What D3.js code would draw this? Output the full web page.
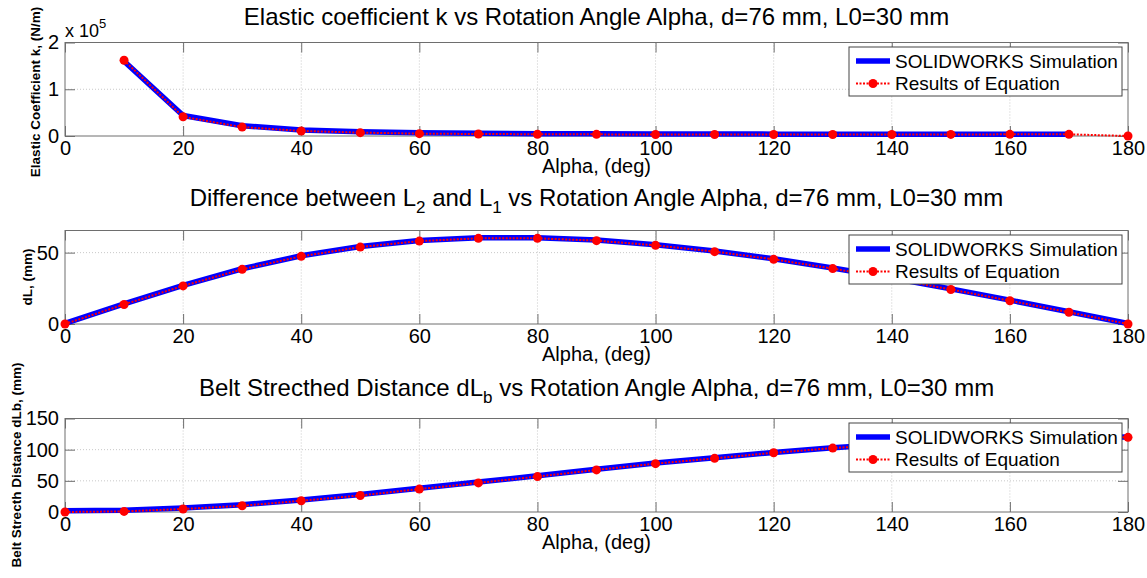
<!DOCTYPE html>
<html>
<head>
<meta charset="utf-8">
<script src="https://cdnjs.cloudflare.com/ajax/libs/d3/7.8.5/d3.min.js"></script>
<style>
  body { margin: 0; background: #fff; }
  svg text { font-family: "Liberation Sans", Arial, Helvetica, sans-serif; fill: #000; }
</style>
</head>
<body>
<div id="chart"></div>
<script>
// ---- data ----
var alpha = [0, 10, 20, 30, 40, 50, 60, 70, 80, 90, 100, 110, 120, 130, 140, 150, 160, 170, 180];

// elastic coefficient k, in units of 10^5 N/m (starts at 10 deg)
var kAlpha = [10, 20, 30, 40, 50, 60, 70, 80, 90, 100, 110, 120, 130, 140, 150, 160, 170, 180];
var kSim = [1.60, 0.44, 0.22, 0.13, 0.09, 0.068, 0.057, 0.05, 0.046, 0.043, 0.041, 0.04, 0.04, 0.04, 0.04, 0.04, 0.04];
var kEq = [1.62, 0.41, 0.19, 0.108, 0.072, 0.05, 0.043, 0.038, 0.035, 0.033, 0.032, 0.032, 0.032, 0.033, 0.034, 0.035, 0.036, 0];

// difference between L2 and L1, mm
var dLSim = [0.4, 14.1, 27.1, 38.7, 47.8, 54.3, 58.5, 60.4, 60.4, 58.8, 55.5, 51.1, 45.7, 39.2, 32.2, 24.6, 16.7, 8.6, 0.4];
var dLEq = [0, 13.7, 26.7, 38.3, 47.4, 53.9, 58.1, 60, 60, 58.4, 55.1, 50.7, 45.3, 38.8, 31.8, 24.2, 16.3, 8.2, 0];

// belt stretched distance dLb, mm
var dLbSim = [2, 2.8, 6.3, 11.8, 19.4, 28, 38, 48, 58, 68.5, 78.5, 87, 95.5, 103, 109, 114, 117.5, 119.5, 120.3];
var dLbEq = [0, 1, 4.8, 10, 18, 26.5, 36.7, 46.7, 56.8, 67.5, 77.6, 86.1, 95, 102.5, 108.5, 113.5, 117, 119, 119.8];

var xTicks = [0, 20, 40, 60, 80, 100, 120, 140, 160, 180];
var kTicks = [0, 1, 2];
var dLTicks = [0, 50];
var dLbTicks = [0, 50, 100, 150];
var legendLabels = ["SOLIDWORKS Simulation", "Results of Equation"];

// ---- layout ----
var W = 1147, H = 578;
var left = 65, right = 1128, panelH = 93.5;

var svg = d3.select("#chart")
    .append("svg")
    .attr("width", W)
    .attr("height", H);

var x = d3.scaleLinear()
    .domain([0, 180])
    .range([left, right]);

function zip(xs, ys) {
    return ys.map(function(v, i) { return [xs[i], v]; });
}

function drawPanel(p) {
    var top = p.top, bottom = top + panelH;
    var y = d3.scaleLinear().domain(p.yDomain).range([bottom, top]);
    var g = svg.append("g");

    // grid
    g.selectAll(".gx").data(xTicks.slice(1, -1)).enter().append("line")
        .attr("x1", function(d) { return x(d); })
        .attr("x2", function(d) { return x(d); })
        .attr("y1", top).attr("y2", bottom)
        .attr("stroke", "#c8c8c8").attr("stroke-width", 1)
        .attr("stroke-dasharray", "1,2");
    g.selectAll(".gy").data(p.yTicks.filter(function(d) { return y(d) > top + 1 && y(d) < bottom - 1; }))
        .enter().append("line")
        .attr("x1", left).attr("x2", right)
        .attr("y1", function(d) { return y(d); })
        .attr("y2", function(d) { return y(d); })
        .attr("stroke", "#c8c8c8").attr("stroke-width", 1)
        .attr("stroke-dasharray", "1,2");

    // axes (ticks inside, on all four sides)
    var fmt = d3.format("~g");
    var bx = g.append("g").attr("transform", "translate(0," + bottom + ")")
        .call(d3.axisBottom(x).tickValues(xTicks).tickSize(-10).tickPadding(5).tickFormat(fmt));
    var tx = g.append("g").attr("transform", "translate(0," + top + ")")
        .call(d3.axisTop(x).tickValues(xTicks).tickSize(-10).tickFormat(""));
    var ly = g.append("g").attr("transform", "translate(" + left + ",0)")
        .call(d3.axisLeft(y).tickValues(p.yTicks).tickSize(-10).tickPadding(6).tickFormat(fmt));
    var ry = g.append("g").attr("transform", "translate(" + right + ",0)")
        .call(d3.axisRight(y).tickValues(p.yTicks).tickSize(-10).tickFormat(""));
    [bx, tx, ly, ry].forEach(function(a) {
        a.select(".domain").remove();
        a.selectAll(".tick line").attr("stroke", "#6e6e6e");
        a.selectAll(".tick text").style("font-size", "20px").attr("fill", "#000");
    });
    g.append("rect")
        .attr("x", left).attr("y", top)
        .attr("width", right - left).attr("height", panelH)
        .attr("fill", "none").attr("stroke", "#6e6e6e").attr("stroke-width", 1);

    // lines
    var line = d3.line()
        .x(function(d) { return x(d[0]); })
        .y(function(d) { return y(d[1]); });
    var sim = zip(p.simX, p.simY), eq = zip(p.eqX, p.eqY);
    g.append("path").datum(sim).attr("d", line)
        .attr("fill", "none").attr("stroke", "#0000ff")
        .attr("stroke-width", 5.5).attr("stroke-linejoin", "round");
    g.append("path").datum(eq).attr("d", line)
        .attr("fill", "none").attr("stroke", "#ff0000")
        .attr("stroke-width", 2).attr("stroke-dasharray", "2,1.5");
    g.selectAll(".pt").data(eq).enter().append("circle")
        .attr("cx", function(d) { return x(d[0]); })
        .attr("cy", function(d) { return y(d[1]); })
        .attr("r", 4.5).attr("fill", "#ff0000");

    // title
    var t = svg.append("text")
        .attr("x", (left + right) / 2)
        .attr("y", top - p.titleGap)
        .attr("text-anchor", "middle")
        .style("font-size", "24px");
    p.title.forEach(function(part) {
        if (part.sub) {
            t.append("tspan").attr("dy", 7).style("font-size", "17px").text(part.sub);
            t.append("tspan").attr("dy", -7).text(part.text || "");
        } else {
            t.append("tspan").text(part.text);
        }
    });

    // x label
    svg.append("text")
        .attr("x", (left + right) / 2)
        .attr("y", bottom + 37)
        .attr("text-anchor", "middle")
        .style("font-size", "20px")
        .text("Alpha, (deg)");

    // y label
    svg.append("text")
        .attr("transform", "translate(" + p.ylabelX + "," + p.ylabelY + ") rotate(-90)")
        .attr("text-anchor", "middle")
        .style("font-size", "13.5px")
        .style("font-weight", "bold")
        .text(p.ylabel);

    // exponent label
    if (p.exponent) {
        var ex = svg.append("text").attr("x", left).attr("y", top - 6).style("font-size", "18px");
        ex.append("tspan").text("x 10");
        ex.append("tspan").attr("dy", -9).style("font-size", "13px").text(p.exponent);
    }

    // legend
    var lx = 849, ly0 = top + 4.5, lw = 273, lh = 49;
    var lg = svg.append("g");
    lg.append("rect")
        .attr("x", lx).attr("y", ly0).attr("width", lw).attr("height", lh)
        .attr("fill", "#fff").attr("stroke", "#444").attr("stroke-width", 1);
    var r1 = ly0 + 14, r2 = ly0 + 36.5;
    lg.append("line").attr("x1", 856).attr("x2", 890).attr("y1", r1).attr("y2", r1)
        .attr("stroke", "#0000ff").attr("stroke-width", 5.5);
    lg.append("line").attr("x1", 856).attr("x2", 890).attr("y1", r2).attr("y2", r2)
        .attr("stroke", "#ff0000").attr("stroke-width", 2).attr("stroke-dasharray", "2,1.5");
    lg.append("circle").attr("cx", 873).attr("cy", r2).attr("r", 4.5).attr("fill", "#ff0000");
    lg.selectAll(".lt").data(legendLabels).enter().append("text")
        .attr("x", 895)
        .attr("y", function(d, i) { return i === 0 ? r1 : r2; })
        .attr("dy", "0.35em")
        .style("font-size", "19px")
        .text(function(d) { return d; });
}

drawPanel({
    top: 42.5, yDomain: [0, 2], yTicks: kTicks,
    simX: kAlpha.slice(0, kSim.length), simY: kSim,
    eqX: kAlpha, eqY: kEq,
    titleGap: 18,
    title: [{ text: "Elastic coefficient k vs Rotation Angle Alpha, d=76 mm, L0=30 mm" }],
    ylabel: "Elastic Coefficient k, (N/m)",
    ylabelX: 40, ylabelY: 92, exponent: "5"
});

drawPanel({
    top: 230.5, yDomain: [0, 65.5], yTicks: dLTicks,
    simX: alpha, simY: dLSim,
    eqX: alpha, eqY: dLEq,
    titleGap: 25,
    title: [{ text: "Difference between L" }, { sub: "2", text: " and L" }, { sub: "1", text: " vs Rotation Angle Alpha, d=76 mm, L0=30 mm" }],
    ylabel: "dL, (mm)",
    ylabelX: 32, ylabelY: 277
});

drawPanel({
    top: 418.5, yDomain: [0, 150], yTicks: dLbTicks,
    simX: alpha, simY: dLbSim,
    eqX: alpha, eqY: dLbEq,
    titleGap: 23,
    title: [{ text: "Belt Strecthed Distance dL" }, { sub: "b", text: " vs Rotation Angle Alpha, d=76 mm, L0=30 mm" }],
    ylabel: "Belt Strecth Distance dLb, (mm)",
    ylabelX: 21, ylabelY: 465
});
</script>
</body>
</html>
